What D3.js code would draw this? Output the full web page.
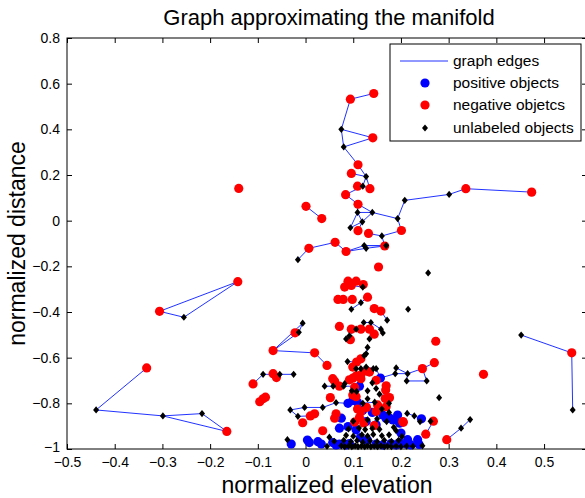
<!DOCTYPE html>
<html>
<head>
<meta charset="utf-8">
<script src="https://cdn.jsdelivr.net/npm/d3@7"></script>
<style>
  body { margin: 0; background: #fff; }
  text { font-family: "Liberation Sans", Arial, sans-serif; fill: #000; }
</style>
</head>
<body>
<div id="main"></div>
<script>
// ---- data (normalized elevation, normalized distance) ----
const positive = [
  [-0.030,-0.978],[0.004,-0.961],[0.008,-0.972],[0.026,-0.968],[0.033,-0.978],[0.057,-0.972],
  [0.064,-0.982],[0.071,-0.978],[0.085,-0.982],[0.092,-0.976],[0.148,-0.978],[0.162,-0.982],
  [0.179,-0.976],[0.190,-0.982],[0.197,-0.972],[0.211,-0.978],[0.221,-0.982],[0.238,-0.980],
  [0.071,-0.909],[0.075,-0.865],[0.089,-0.902],[0.106,-0.916],[0.127,-0.880],[0.148,-0.894],
  [0.162,-0.851],[0.169,-0.866],[0.183,-0.873],[0.193,-0.851],[0.197,-0.887],[0.214,-0.959],
  [0.235,-0.959],[0.243,-0.868],[0.176,-0.864],[0.089,-0.800],[0.099,-0.788],[0.109,-0.796],
  [0.113,-0.725],[0.157,-0.689],[0.120,-0.830],[0.140,-0.840],[0.200,-0.930],[0.115,-0.950],
  [0.130,-0.962]
];

const negative = [
  [0.094,0.532],[0.143,0.557],[0.141,0.363],[0.110,0.245],[0.096,0.207],[0.109,0.151],
  [0.135,0.140],[0.084,0.114],[0.110,0.072],[0.110,-0.044],[0.132,-0.056],[0.201,-0.043],
  [0.336,0.140],[0.474,0.125],[0.001,0.063],[0.034,0.009],[-0.140,0.141],[0.007,-0.121],
  [0.062,-0.095],[0.085,-0.135],[0.166,-0.111],[0.153,-0.203],
  [0.089,-0.265],[0.106,-0.265],[0.082,-0.291],[0.096,-0.284],[0.121,-0.280],[0.068,-0.345],
  [0.079,-0.345],[0.098,-0.345],[0.130,-0.335],[0.144,-0.385],[0.158,-0.396],[0.071,-0.463],
  [0.096,-0.475],[0.116,-0.475],[0.134,-0.475],[0.144,-0.497],[0.094,-0.521],
  [-0.142,-0.267],[-0.306,-0.397],[-0.333,-0.645],[-0.165,-0.923],[-0.022,-0.491],[-0.068,-0.569],
  [0.019,-0.579],[0.045,-0.634],[-0.110,-0.715],[-0.068,-0.670],[-0.061,-0.687],[-0.096,-0.793],
  [-0.089,-0.780],[-0.084,-0.773],[-0.006,-0.885],[0.010,-0.855],[0.019,-0.846],
  [0.273,-0.528],[0.270,-0.622],[0.245,-0.648],[0.373,-0.673],[0.558,-0.579],[0.296,-0.959],
  [0.252,-0.935],[0.268,-0.878],[0.204,-0.880],
  [0.116,-0.605],[0.107,-0.619],[0.099,-0.641],[0.134,-0.663],[0.128,-0.658],[0.116,-0.675],
  [0.099,-0.690],[0.057,-0.692],[0.061,-0.703],[0.071,-0.725],[0.092,-0.697],[0.106,-0.680],
  [0.116,-0.692],[0.103,-0.730],[0.052,-0.775],[0.169,-0.723],[0.168,-0.742],[0.148,-0.699],
  [0.176,-0.775],[0.167,-0.779],[0.169,-0.815],[0.106,-0.771],[0.099,-0.764],[0.109,-0.825],
  [0.116,-0.837],[0.128,-0.818],[0.148,-0.836],[0.151,-0.807],[0.113,-0.862],[0.103,-0.882],
  [0.122,-0.886],[0.144,-0.897],[0.036,-0.920],[0.064,-0.846],[0.061,-0.865],[0.205,-0.883]
];

const unlabeled = [
  [0.075,0.400],[0.080,0.323],[0.127,0.193],[0.120,0.151],[0.109,0.036],[0.140,0.036],
  [0.119,-0.005],[0.094,-0.031],[0.160,-0.067],[0.193,0.009],[0.208,0.089],[0.301,0.115],
  [0.123,-0.109],[0.127,-0.121],[0.169,-0.109],[-0.016,-0.171],[0.257,-0.229],
  [0.120,-0.291],[0.116,-0.359],[0.096,-0.388],[0.215,-0.388],[0.171,-0.436],[0.122,-0.446],
  [0.137,-0.446],[0.106,-0.475],[0.158,-0.475],[0.162,-0.492],[0.092,-0.504],[0.085,-0.518],
  [0.134,-0.518],[0.130,-0.555],[0.127,-0.583],[0.123,-0.591],[0.088,-0.617],[0.106,-0.648],
  [0.116,-0.648],[0.127,-0.641],[0.142,-0.648],[0.148,-0.648],[0.190,-0.645],[0.188,-0.670],
  [0.214,-0.670],[0.212,-0.702],[0.254,-0.702],[0.280,-0.775],[0.345,-0.871],[0.326,-0.909],
  [0.452,-0.501],[0.560,-0.829],
  [-0.255,-0.423],[-0.439,-0.829],[-0.299,-0.855],[-0.217,-0.845],[-0.006,-0.449],[-0.014,-0.489],
  [-0.089,-0.673],[-0.054,-0.673],[-0.025,-0.673],[-0.032,-0.829],[-0.002,-0.818],[0.036,-0.818],
  [0.064,-0.797],[-0.016,-0.857],[-0.038,-0.959],[0.050,-0.948],
  [0.040,-0.725],[0.058,-0.725],[0.080,-0.725],[0.082,-0.714],[0.097,-0.745],[0.107,-0.748],
  [0.130,-0.745],[0.148,-0.735],[0.140,-0.710],[0.155,-0.760],[0.130,-0.780],[0.120,-0.800],
  [0.145,-0.795],[0.160,-0.825],[0.175,-0.800],[0.213,-0.844],[0.228,-0.855],[0.240,-0.880],
  [0.262,-0.878],[0.202,-0.945],[0.175,-0.840],[0.190,-0.920],
  [0.045,-0.988],[0.075,-0.986],[0.082,-0.990],[0.090,-0.987],[0.097,-0.990],[0.104,-0.986],
  [0.110,-0.990],[0.117,-0.987],[0.124,-0.990],[0.130,-0.986],[0.137,-0.990],[0.144,-0.987],
  [0.151,-0.990],[0.158,-0.986],[0.165,-0.990],[0.172,-0.987],[0.180,-0.990],[0.190,-0.987],
  [0.200,-0.990],[0.212,-0.987],[0.225,-0.988],[0.245,-0.986],
  [0.060,-0.966],[0.080,-0.962],[0.095,-0.968],[0.108,-0.963],[0.120,-0.970],[0.135,-0.964],
  [0.150,-0.968],[0.165,-0.962],[0.180,-0.967],[0.195,-0.962],
  [0.085,-0.940],[0.100,-0.944],[0.118,-0.938],[0.130,-0.943],[0.142,-0.936],[0.160,-0.942],
  [0.175,-0.938],[0.090,-0.912],[0.112,-0.908],[0.125,-0.915],[0.140,-0.910],[0.155,-0.914],
  [0.185,-0.905],[0.100,-0.878],[0.130,-0.872],[0.150,-0.868],[0.170,-0.880]
];

// polylines of graph edges
const edges = [
  [[0.143,0.557],[0.094,0.532],[0.075,0.400],[0.141,0.363],[0.080,0.323],[0.075,0.400]],
  [[0.080,0.323],[0.110,0.245],[0.127,0.193],[0.120,0.151],[0.135,0.140],[0.127,0.193],[0.096,0.207]],
  [[0.109,0.151],[0.120,0.151],[0.084,0.114],[0.110,0.072]],
  [[0.110,0.072],[0.109,0.036],[0.094,-0.031],[0.119,-0.005],[0.109,0.036],[0.140,0.036],[0.110,0.072]],
  [[0.140,0.036],[0.119,-0.005],[0.110,-0.044]],
  [[0.140,0.036],[0.193,0.009],[0.208,0.089],[0.301,0.115],[0.336,0.140],[0.474,0.125]],
  [[0.193,0.009],[0.201,-0.043],[0.160,-0.067],[0.132,-0.056]],
  [[0.160,-0.067],[0.166,-0.111]],
  [[0.001,0.063],[0.034,0.009]],
  [[-0.016,-0.171],[0.007,-0.121],[0.062,-0.095],[0.085,-0.135],[0.123,-0.109],[0.166,-0.111],[0.127,-0.121],[0.085,-0.135]],
  [[0.123,-0.109],[0.169,-0.109]],
  [[0.089,-0.265],[0.106,-0.265],[0.120,-0.291],[0.096,-0.284]],
  [[0.130,-0.335],[0.116,-0.359],[0.096,-0.388]],
  [[0.158,-0.396],[0.171,-0.436]],
  [[0.122,-0.446],[0.137,-0.446],[0.158,-0.475],[0.162,-0.492]],
  [[0.096,-0.475],[0.106,-0.475],[0.116,-0.475],[0.134,-0.475],[0.144,-0.497]],
  [[0.106,-0.475],[0.092,-0.504]],
  [[0.130,-0.555],[0.127,-0.583],[0.123,-0.591]],
  [[-0.142,-0.267],[-0.306,-0.397],[-0.255,-0.423],[-0.142,-0.267]],
  [[-0.333,-0.645],[-0.439,-0.829],[-0.299,-0.855],[-0.217,-0.845],[-0.165,-0.923],[-0.299,-0.855]],
  [[-0.068,-0.569],[-0.006,-0.449],[-0.014,-0.489],[-0.068,-0.569]],
  [[-0.068,-0.569],[0.019,-0.579],[0.045,-0.634]],
  [[-0.110,-0.715],[-0.089,-0.673],[-0.054,-0.673],[-0.025,-0.673]],
  [[-0.032,-0.829],[-0.002,-0.818],[0.036,-0.818],[0.064,-0.797],[0.089,-0.800]],
  [[-0.032,-0.829],[-0.016,-0.857],[0.010,-0.855]],
  [[-0.038,-0.959],[-0.030,-0.978]],
  [[0.452,-0.501],[0.558,-0.579],[0.560,-0.829]],
  [[0.296,-0.959],[0.326,-0.909],[0.345,-0.871]],
  [[0.148,-0.648],[0.157,-0.689],[0.188,-0.670],[0.214,-0.670],[0.212,-0.702],[0.254,-0.702],[0.245,-0.648],[0.270,-0.622]],
  [[0.190,-0.645],[0.214,-0.670],[0.245,-0.648]],
  [[0.252,-0.935],[0.268,-0.878]],
  [[0.213,-0.844],[0.228,-0.855],[0.243,-0.868]],
  [[0.106,-0.648],[0.116,-0.648],[0.127,-0.641],[0.142,-0.648]],
  [[0.088,-0.617],[0.107,-0.619]],
  [[0.040,-0.725],[0.058,-0.725],[0.080,-0.725],[0.113,-0.725]],
  [[0.082,-0.714],[0.099,-0.690]],
  [[0.120,-0.800],[0.145,-0.795]],
  [[0.155,-0.760],[0.176,-0.775]]
];

const xTicks = [-0.5,-0.4,-0.3,-0.2,-0.1,0,0.1,0.2,0.3,0.4,0.5];
const yTicks = [-1,-0.8,-0.6,-0.4,-0.2,0,0.2,0.4,0.6,0.8];
const legendLabels = ["graph edges","positive objects","negative objetcs","unlabeled objects"];

// ---- layout ----
const ctx = {
  w: 585, h: 498,
  left: 67, right: 587, top: 38, bottom: 449,
  TICK: 5,
};

const x = d3.scaleLinear().domain([-0.5, 0.59]).range([ctx.left, ctx.right]);
const y = d3.scaleLinear().domain([-1, 0.8]).range([ctx.bottom, ctx.top]);

const svg = d3.select("#main").append("svg")
  .attr("width", ctx.w).attr("height", ctx.h);

const fmt = d => (d === 0 ? "0" : d3.format("")(d));

// axes: ticks point inwards, labels only bottom/left
const gx = svg.append("g").attr("transform", `translate(0,${ctx.bottom})`)
  .call(d3.axisBottom(x).tickValues(xTicks).tickSize(-ctx.TICK).tickPadding(8).tickFormat(fmt));
const gy = svg.append("g").attr("transform", `translate(${ctx.left},0)`)
  .call(d3.axisLeft(y).tickValues(yTicks).tickSize(-ctx.TICK).tickPadding(7).tickFormat(fmt));
const gxt = svg.append("g").attr("transform", `translate(0,${ctx.top})`)
  .call(d3.axisTop(x).tickValues(xTicks).tickSize(-ctx.TICK).tickFormat(""));
const gyr = svg.append("g").attr("transform", `translate(${ctx.right},0)`)
  .call(d3.axisRight(y).tickValues(yTicks).tickSize(-ctx.TICK).tickFormat(""));

[gx, gy, gxt, gyr].forEach(g => {
  g.select(".domain").remove();
  g.selectAll("line").attr("stroke", "#000");
  g.selectAll("text").style("font-size", "14px").attr("fill", "#000");
});

// the "-1" label sits just above the "-0.5" label; lift it a touch
gy.selectAll(".tick text").filter(d => d === -1).attr("dy", "0.15em");

svg.append("rect")
  .attr("x", ctx.left).attr("y", ctx.top)
  .attr("width", ctx.right - ctx.left).attr("height", ctx.bottom - ctx.top)
  .attr("fill", "none").attr("stroke", "#000");

// graph edges
const line = d3.line().x(d => x(d[0])).y(d => y(d[1]));
svg.append("g").attr("id", "links")
  .selectAll("path").data(edges).enter().append("path")
  .attr("d", line)
  .attr("fill", "none")
  .attr("stroke", "#2233ff")
  .attr("stroke-width", 1);

const diamond = "M0,-3.6L3,0L0,3.6L-3,0Z";

svg.append("g").attr("id", "pos")
  .selectAll("circle").data(positive).enter().append("circle")
  .attr("cx", d => x(d[0])).attr("cy", d => y(d[1])).attr("r", 4.6)
  .attr("fill", "#0000ff");

svg.append("g").attr("id", "neg")
  .selectAll("circle").data(negative).enter().append("circle")
  .attr("cx", d => x(d[0])).attr("cy", d => y(d[1])).attr("r", 4.6)
  .attr("fill", "#ff0000");

svg.append("g").attr("id", "unl")
  .selectAll("path").data(unlabeled).enter().append("path")
  .attr("transform", d => `translate(${x(d[0])},${y(d[1])})`)
  .attr("d", diamond)
  .attr("fill", "#000");

// titles
svg.append("text").attr("x", (ctx.left + ctx.right) / 2 + 2).attr("y", 25)
  .attr("text-anchor", "middle").style("font-size", "22px")
  .text("Graph approximating the manifold");
svg.append("text").attr("x", (ctx.left + ctx.right) / 2).attr("y", 493)
  .attr("text-anchor", "middle").style("font-size", "23px")
  .text("normalized elevation");
svg.append("text")
  .attr("transform", `translate(25,${(ctx.top + ctx.bottom) / 2}) rotate(-90)`)
  .attr("text-anchor", "middle").style("font-size", "23px")
  .text("normalized distance");

// legend
const lg = svg.append("g").attr("id", "legend");
lg.append("rect").attr("x", 390).attr("y", 44).attr("width", 191).attr("height", 97)
  .attr("fill", "#fff").attr("stroke", "#000");
const rowY = [61, 83, 105, 128];
legendLabels.forEach((t, i) => {
  const yy = rowY[i];
  if (i === 0) {
    lg.append("line").attr("x1", 400).attr("x2", 448).attr("y1", yy).attr("y2", yy)
      .attr("stroke", "#2233ff");
  } else if (i < 3) {
    lg.append("circle").attr("cx", 425).attr("cy", yy).attr("r", 4.6)
      .attr("fill", i === 1 ? "#0000ff" : "#ff0000");
  } else {
    lg.append("path").attr("transform", `translate(425,${yy})`).attr("d", diamond).attr("fill", "#000");
  }
  lg.append("text").attr("x", 453).attr("y", yy + 5).style("font-size", "15.5px").text(t);
});
</script>
</body>
</html>
